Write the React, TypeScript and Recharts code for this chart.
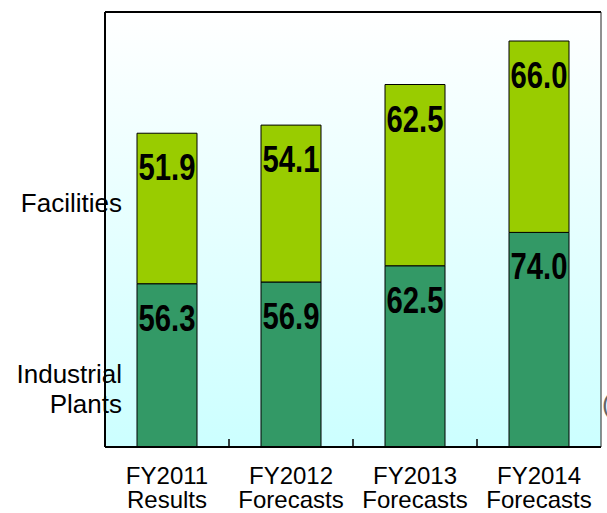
import React from "react";
import {
  BarChart,
  Bar,
  XAxis,
  YAxis,
  CartesianGrid,
  LabelList
} from "recharts";

// Sales by segment (billions of yen)
const years = ["FY2011", "FY2012", "FY2013", "FY2014"];
const subtitles = ["Results", "Forecasts", "Forecasts", "Forecasts"];
const industrialPlants = [56.3, 56.9, 62.5, 74.0];
const facilities = [51.9, 54.1, 62.5, 66.0];

const data = years.map((y, i) => ({
  name: y,
  sub: subtitles[i],
  plants: industrialPlants[i],
  facilities: facilities[i]
}));

const W = 607;
const H = 513;
const FONT = "'Liberation Sans', Arial, sans-serif";

// bold figures squeezed horizontally so they fit inside the 60px bars
const ValueLabel = (props: any) => {
  const { x, y, width, value } = props;
  return (
    <g transform={`translate(${x + width / 2}, ${y + 47}) scale(0.79, 1)`}>
      <text
        x={0}
        y={0}
        textAnchor="middle"
        fontFamily={FONT}
        fontWeight="bold"
        fontSize={37}
        fill="#000"
      >
        {Number(value).toFixed(1)}
      </text>
    </g>
  );
};

// two-line category label plus the tick mark between neighbouring bands
const CategoryTick = (props: any) => {
  const { x, y, payload, index } = props;
  const half = payload?.offset ?? 62;
  const row = data[index] ?? data.find((d) => d.name === payload.value);
  return (
    <g>
      {index < data.length - 1 && (
        <line x1={x + half} x2={x + half} y1={y} y2={y - 8} stroke="#000" strokeWidth={1.5} />
      )}
      <text x={x} y={y + 37} textAnchor="middle" fontFamily={FONT} fontSize={24} fill="#000">
        <tspan x={x}>{payload.value}</tspan>
        <tspan x={x} dy={24}>
          {row?.sub}
        </tspan>
      </text>
    </g>
  );
};

const sideLabel: React.CSSProperties = {
  position: "absolute",
  left: 0,
  width: 122,
  textAlign: "right",
  fontFamily: FONT,
  fontSize: 26,
  lineHeight: "26px",
  color: "#000",
  whiteSpace: "nowrap"
};

export default function App() {
  return (
    <div
      style={{
        position: "absolute",
        left: 0,
        top: 0,
        width: W,
        height: H,
        overflow: "hidden",
        background: "#fff"
      }}
    >
      <BarChart
        width={W}
        height={H}
        data={data}
        margin={{ top: 0, right: 0, left: 0, bottom: 0 }}
        barSize={60}
      >
        <defs>
          <linearGradient id="plotBg" x1="0" y1="0" x2="0" y2="1">
            <stop offset="0%" stopColor="#ffffff" />
            <stop offset="100%" stopColor="#ccffff" />
          </linearGradient>
        </defs>
        <CartesianGrid horizontal={false} vertical={false} fill="url(#plotBg)" />
        <XAxis
          dataKey="name"
          height={66}
          axisLine={{ stroke: "#000", strokeWidth: 2 }}
          tickLine={false}
          tickSize={0}
          tickMargin={0}
          interval={0}
          tick={<CategoryTick />}
        />
        <XAxis
          xAxisId="top"
          dataKey="name"
          orientation="top"
          height={12}
          axisLine={{ stroke: "#000", strokeWidth: 2 }}
          tick={false}
          tickLine={false}
        />
        <YAxis
          domain={[0, 150]}
          width={105}
          axisLine={{ stroke: "#000", strokeWidth: 2 }}
          tick={false}
          tickLine={false}
        />
        <YAxis
          yAxisId="right"
          orientation="right"
          domain={[0, 150]}
          width={6}
          axisLine={{ stroke: "#222", strokeWidth: 1 }}
          tick={false}
          tickLine={false}
        />
        <Bar
          dataKey="plants"
          stackId="a"
          fill="#339966"
          stroke="#000"
          strokeWidth={1}
          isAnimationActive={false}
        >
          <LabelList dataKey="plants" content={<ValueLabel />} />
        </Bar>
        <Bar
          dataKey="facilities"
          stackId="a"
          fill="#99cc00"
          stroke="#000"
          strokeWidth={1}
          isAnimationActive={false}
        >
          <LabelList dataKey="facilities" content={<ValueLabel />} />
        </Bar>
      </BarChart>
      <div style={{ ...sideLabel, top: 190 }}>Facilities</div>
      <div style={{ ...sideLabel, top: 361 }}>Industrial</div>
      <div style={{ ...sideLabel, top: 391 }}>Plants</div>
      <div
        style={{
          ...sideLabel,
          left: 602,
          width: "auto",
          textAlign: "left",
          top: 391,
          color: "#666"
        }}
      >
        (
      </div>
    </div>
  );
}
